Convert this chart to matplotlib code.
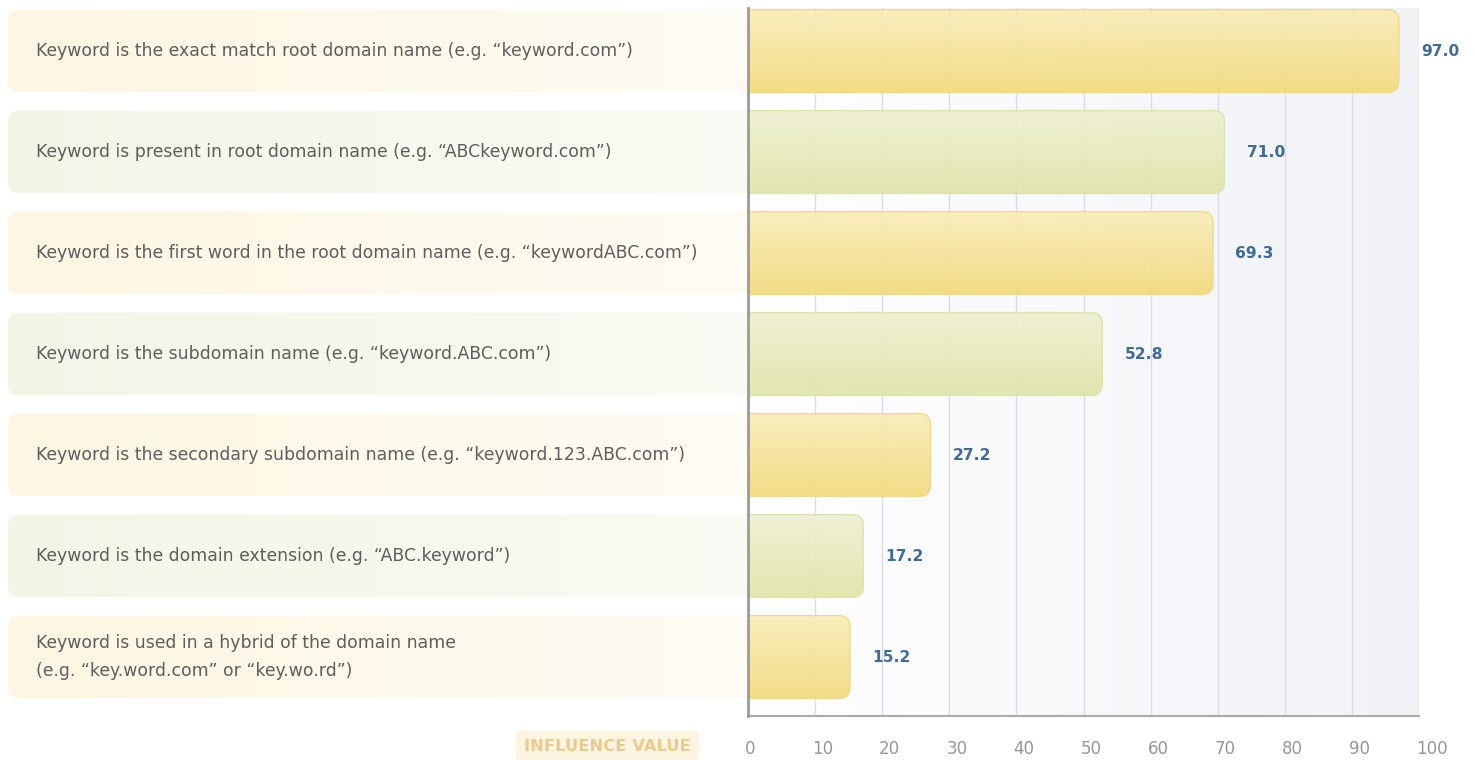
import numpy as np
import matplotlib
matplotlib.use("Agg")
import matplotlib.pyplot as plt
import matplotlib.transforms as mtransforms
from matplotlib.patches import FancyBboxPatch
from matplotlib.colors import LinearSegmentedColormap

plt.rcParams['font.family'] = ['DejaVu Sans']

labels = [
    'Keyword is the exact match root domain name (e.g. \u201ckeyword.com\u201d)',
    'Keyword is present in root domain name (e.g. \u201cABCkeyword.com\u201d)',
    'Keyword is the first word in the root domain name (e.g. \u201ckeywordABC.com\u201d)',
    'Keyword is the subdomain name (e.g. \u201ckeyword.ABC.com\u201d)',
    'Keyword is the secondary subdomain name (e.g. \u201ckeyword.123.ABC.com\u201d)',
    'Keyword is the domain extension (e.g. \u201cABC.keyword\u201d)',
    'Keyword is used in a hybrid of the domain name\n(e.g. \u201ckey.word.com\u201d or \u201ckey.wo.rd\u201d)',
]
values = [97.0, 71.0, 69.3, 52.8, 27.2, 17.2, 15.2]
series_kind = ['yellow', 'green', 'yellow', 'green', 'yellow', 'green', 'yellow']
ticks = [0, 10, 20, 30, 40, 50, 60, 70, 80, 90, 100]
axis_title = 'INFLUENCE VALUE'

bar_cols = {'yellow': ('#F9EDB8', '#F2DA7C'), 'green': ('#EEF0D0', '#E0E5A8')}
bar_edges = {'yellow': '#EFD98C', 'green': '#DDE2B0'}
panel_cols = {'yellow': ('#FEFCF4', '#FDF6E2'), 'green': ('#FAFBF4', '#F2F5E6')}

W, H = 1475, 760
fig = plt.figure(figsize=(W/100, H/100), dpi=100)
YLIM = (6.584, -0.426)
ax_rect = [748/W, 44/H, 671/W, 708/H]

# panel axes (left side), sharing the category scale
pax = fig.add_axes([8/W, 44/H, 740/W, 708/H], zorder=0)
pax.set_xlim(0, 1)
pax.set_ylim(*YLIM)
pax.axis('off')

ax = fig.add_axes(ax_rect, zorder=1)
ax.patch.set_alpha(0)

# background gradient
bg = LinearSegmentedColormap.from_list('bg', ['#FFFFFF', '#F0F2F6'])
grad = np.linspace(0, 1, 256).reshape(1, -1)
ax.imshow(grad, cmap=bg, extent=[0, 100, YLIM[0], YLIM[1]], aspect='auto', zorder=0)

for t in ticks[1:]:
    ax.axvline(t, color='#DADCE1', lw=1, zorder=1)

h = 0.82
yu = 101.0
rad_px = 11
xu = 6.71
aspect = (rad_px / yu) / (rad_px / xu)
pxu = 740.0
paspect = (rad_px / yu) / (rad_px / pxu)

vgrad = np.linspace(0, 1, 256).reshape(-1, 1)
hgrad = np.linspace(0, 1, 256).reshape(1, -1)
for i, (lab, v, k) in enumerate(zip(labels, values, series_kind)):
    # left label panel
    pc = LinearSegmentedColormap.from_list('p', [panel_cols[k][1], panel_cols[k][0]])
    panel = FancyBboxPatch((0, i - h/2), 1.05, h,
                           boxstyle=f'round,pad=0,rounding_size={rad_px/pxu}',
                           mutation_aspect=paspect, fc='none', ec='none')
    pax.add_patch(panel)
    im = pax.imshow(hgrad, cmap=pc, extent=[0, 1, i + h/2, i - h/2],
                    aspect='auto', zorder=1)
    im.set_clip_path(panel)
    pax.text(28/pxu, i, lab, ha='left', va='center', fontsize=12.4,
             color='#5E5E5E', linespacing=1.65, zorder=3)

    # bar
    bc = LinearSegmentedColormap.from_list('b', [bar_cols[k][0], bar_cols[k][1]])
    bar = FancyBboxPatch((-2, i - h/2), v + 2, h,
                         boxstyle=f'round,pad=0,rounding_size={rad_px/xu}',
                         mutation_aspect=aspect, fc='none', ec=bar_edges[k],
                         lw=1.0, zorder=3)
    ax.add_patch(bar)
    im2 = ax.imshow(vgrad, cmap=bc, extent=[0, v, i + h/2, i - h/2],
                    aspect='auto', zorder=2, alpha=0.92)
    im2.set_clip_path(bar)
    ax.text(v + 3.3, i, f'{v:.1f}', ha='left', va='center', fontsize=11.2,
            fontweight='bold', color='#3F6B9A', zorder=4)

pax.set_xlim(0, 1)
pax.set_ylim(*YLIM)
ax.set_xlim(0, 100)
ax.set_ylim(*YLIM)

for s in ['top', 'right']:
    ax.spines[s].set_visible(False)
ax.spines['left'].set_color('#9A9A9A')
ax.spines['left'].set_linewidth(2)
ax.spines['left'].set_zorder(5)
ax.spines['bottom'].set_color('#AAAAAA')
ax.spines['bottom'].set_linewidth(1.5)
ax.set_yticks([])
ax.set_xticks(ticks)
ax.set_xticklabels([str(t) for t in ticks])
ax.tick_params(axis='x', length=0, pad=24, labelsize=12, labelcolor='#969696')
shift = mtransforms.ScaledTranslation(-3/100, 0, fig.dpi_scale_trans)
for lbl in ax.get_xticklabels():
    lbl.set_horizontalalignment('left')
    lbl.set_verticalalignment('center')
    lbl.set_transform(lbl.get_transform() + shift)

ax.text(-21.0, YLIM[0] + 0.3, axis_title, ha='center', va='center', fontsize=11.8,
        fontweight='bold', color='#EACB8C', clip_on=False,
        bbox=dict(boxstyle='square,pad=0.5', fc='#FDF5E2', ec='none'))

fig.savefig('out.png', dpi=100, facecolor='white')
